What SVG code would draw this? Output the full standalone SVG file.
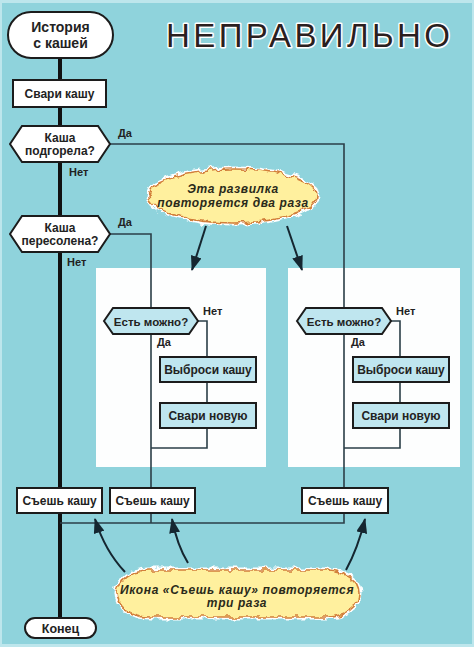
<svg xmlns="http://www.w3.org/2000/svg" width="474" height="647" viewBox="0 0 474 647">
<style>
.bg{fill:#8fd3dc}
.panel{fill:#fdfefe}
.con{fill:none;stroke:#2b3f48;stroke-width:1.6}
.spine{fill:none;stroke:#111;stroke-width:4}
.box{fill:#fff;stroke:#1c1c1c;stroke-width:2}
.pbox{fill:#bfe6ef;stroke:#1c1c1c;stroke-width:2}
.t{font-family:"Liberation Sans",Arial,sans-serif;font-weight:bold;fill:#222;text-anchor:middle}
.lbl{font-family:"Liberation Sans",Arial,sans-serif;font-weight:bold;fill:#222;font-size:11px}
.title{font-family:"Liberation Sans",Arial,sans-serif;font-size:33px;fill:#2b1f1f;stroke:#fff;stroke-width:3;paint-order:stroke;stroke-linejoin:round}
.cloud{fill:#fff09e}
.halo{fill:none;stroke:#fff;stroke-width:5}
.edge{fill:none;stroke:#d27f3a;stroke-width:1.6}
.ct{font-family:"Liberation Sans",Arial,sans-serif;font-weight:bold;font-style:italic;font-size:12px;fill:#2a2a1a;text-anchor:middle;letter-spacing:0.6px}
.arr{fill:none;stroke:#152630;stroke-width:2}
</style>
<defs>
<marker id="ah" markerUnits="userSpaceOnUse" markerWidth="15" markerHeight="11" refX="14" refY="5.5" orient="auto">
<path d="M0,0 L15,5.5 L0,11 z" fill="#152630"/>
</marker>
<filter id="wavy" x="-10%" y="-40%" width="120%" height="180%">
<feTurbulence type="fractalNoise" baseFrequency="0.13" numOctaves="2" seed="4" result="n"/>
<feDisplacementMap in="SourceGraphic" in2="n" scale="8" xChannelSelector="R" yChannelSelector="G"/>
</filter>
</defs>
<rect width="474" height="647" fill="#bde6ec"/>
<rect class="bg" x="2" y="3" width="470" height="641"/>
<g id="title"><text class="title" x="166" y="47" textLength="284" lengthAdjust="spacing">НЕПРАВИЛЬНО</text></g>
<g id="panel1"><rect class="panel" x="96" y="268" width="170" height="199"/></g>
<g id="panel2"><rect class="panel" x="288" y="268" width="172" height="199"/></g>
<g id="connectors">
<path class="spine" d="M60,57 V618"/>
<path class="con" d="M110,144 H344 V308 M344,334 V488 M344,513 V523 H60"/>
<path class="con" d="M110,234 H151 V308 M151,334 V488 M151,513 V523"/>
<path class="con" d="M198,321 H207 V357 M207,382 V403 M207,428 V448 H151"/>
<path class="con" d="M391,321 H400 V357 M400,382 V403 M400,428 V448 H344"/>
<text class="lbl" x="118" y="137">Да</text>
<text class="lbl" x="69" y="176">Нет</text>
<text class="lbl" x="118" y="226">Да</text>
<text class="lbl" x="67" y="266">Нет</text>
<text class="lbl" x="203" y="315">Нет</text>
<text class="lbl" x="157" y="346">Да</text>
<text class="lbl" x="396" y="315">Нет</text>
<text class="lbl" x="351" y="346">Да</text>
</g>
<g id="start"><rect class="box" x="8" y="12" width="105" height="46" rx="23"/><text class="t" x="60.5" y="32" font-size="14">История</text><text class="t" x="60.5" y="48" font-size="14">с кашей</text></g>
<g id="cook"><rect class="box" x="13" y="80" width="93" height="27"/><text class="t" x="59.5" y="98" font-size="12">Свари кашу</text></g>
<g id="burnt"><polygon class="box" points="10,144 22,126 98,126 110,144 98,162 22,162"/><text class="t" x="60" y="142" font-size="12">Каша</text><text class="t" x="60" y="155" font-size="12">подгорела?</text></g>
<g id="salty"><polygon class="box" points="10,234 22,216 98,216 110,234 98,252 22,252"/><text class="t" x="60" y="232" font-size="12">Каша</text><text class="t" x="60" y="245" font-size="12">пересолена?</text></g>
<g id="edible1"><polygon class="pbox" points="104,321 113,308 189,308 198,321 189,334 113,334"/><text class="t" x="151" y="325.5" font-size="11.5">Есть можно?</text></g>
<g id="discard1"><rect class="pbox" x="160" y="357" width="96" height="25"/><text class="t" x="208" y="374" font-size="12">Выброси кашу</text></g>
<g id="cooknew1"><rect class="pbox" x="160" y="403" width="96" height="25"/><text class="t" x="208" y="420" font-size="12">Свари новую</text></g>
<g id="edible2"><polygon class="pbox" points="297,321 306,308 382,308 391,321 382,334 306,334"/><text class="t" x="344" y="325.5" font-size="11.5">Есть можно?</text></g>
<g id="discard2"><rect class="pbox" x="353" y="357" width="96" height="25"/><text class="t" x="401" y="374" font-size="12">Выброси кашу</text></g>
<g id="cooknew2"><rect class="pbox" x="353" y="403" width="96" height="25"/><text class="t" x="401" y="420" font-size="12">Свари новую</text></g>
<g id="eat1"><rect class="box" x="17" y="488" width="85" height="25"/><text class="t" x="59.5" y="505" font-size="12">Съешь кашу</text></g>
<g id="eat2"><rect class="box" x="110" y="488" width="85" height="25"/><text class="t" x="152.5" y="505" font-size="12">Съешь кашу</text></g>
<g id="eat3"><rect class="box" x="302" y="488" width="86" height="25"/><text class="t" x="345" y="505" font-size="12">Съешь кашу</text></g>
<g id="end"><rect class="box" x="25" y="618" width="71" height="20" rx="10"/><text class="t" x="60.5" y="633" font-size="12.5">Конец</text></g>
<g id="note1">
<g filter="url(#wavy)"><ellipse class="halo" cx="233" cy="196" rx="84" ry="27"/><ellipse class="cloud" cx="233" cy="196" rx="84" ry="27"/><ellipse class="edge" cx="233" cy="196" rx="84" ry="27"/></g>
<text class="ct" x="233" y="193">Эта развилка</text>
<text class="ct" x="233" y="207">повторяется два раза</text>
<path class="arr" d="M206,226 L192,270" marker-end="url(#ah)"/>
<path class="arr" d="M287,226 L302,270" marker-end="url(#ah)"/>
</g>
<g id="note2">
<g filter="url(#wavy)"><rect class="halo" x="117" y="570" width="242" height="47" rx="32" ry="23"/><rect class="cloud" x="117" y="570" width="242" height="47" rx="32" ry="23"/><rect class="edge" x="117" y="570" width="242" height="47" rx="32" ry="23"/></g>
<text class="ct" x="237" y="594">Икона «Съешь кашу» повторяется</text>
<text class="ct" x="237" y="607">три раза</text>
<path class="arr" d="M125,572 Q105,551 95,519" marker-end="url(#ah)"/>
<path class="arr" d="M188,563 Q177,545 172,519" marker-end="url(#ah)"/>
<path class="arr" d="M346,570 Q358,548 365,519" marker-end="url(#ah)"/>
</g>
</svg>
